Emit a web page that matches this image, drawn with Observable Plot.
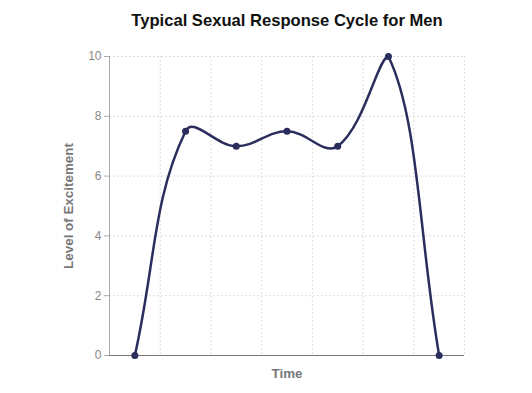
<!DOCTYPE html>
<html>
<head>
<meta charset="utf-8">
<script src="https://cdn.jsdelivr.net/npm/d3@7"></script>
<script src="https://cdn.jsdelivr.net/npm/@observablehq/plot@0.6"></script>
<style>
  html, body { margin: 0; padding: 0; background: #fff; }
</style>
</head>
<body>
<div id="chart"></div>
<script>
const times = [0, 1, 2, 3, 4, 5, 6];
const excitement = [0, 7.5, 7, 7.5, 7, 10, 0];
const yTicks = [0, 2, 4, 6, 8, 10];
const xGrid = [0.5, 1.5, 2.5, 3.5, 4.5, 5.5, 6.5];
const title = "Typical Sexual Response Cycle for Men";
const yLabel = "Level of Excitement";
const xLabel = "Time";

const data = times.map((t, i) => ({t, v: excitement[i]}));
const lineColor = "#2b2d5c";

// Tension-based bezier spline (like Chart.js line tension), control points capped to data extent
function tensionCurve(tension) {
  return function(context) {
    let pts = [];
    return {
      areaStart() {}, areaEnd() {},
      lineStart() { pts = []; },
      point(x, y) { pts.push([+x, +y]); },
      lineEnd() {
        const n = pts.length;
        if (!n) return;
        const ys = pts.map(p => p[1]), xs = pts.map(p => p[0]);
        const yMin = Math.min(...ys), yMax = Math.max(...ys);
        const xMin = Math.min(...xs), xMax = Math.max(...xs);
        const clampY = y => Math.max(yMin, Math.min(yMax, y));
        const clampX = x => Math.max(xMin, Math.min(xMax, x));
        const cps = pts.map((cur, i) => {
          const prev = pts[i - 1] || cur, next = pts[i + 1] || cur;
          const d01 = Math.hypot(cur[0] - prev[0], cur[1] - prev[1]);
          const d12 = Math.hypot(next[0] - cur[0], next[1] - cur[1]);
          let s01 = d01 / (d01 + d12), s12 = d12 / (d01 + d12);
          if (!isFinite(s01)) s01 = 0;
          if (!isFinite(s12)) s12 = 0;
          const fa = tension * s01, fb = tension * s12;
          return {
            p: [clampX(cur[0] - fa * (next[0] - prev[0])), clampY(cur[1] - fa * (next[1] - prev[1]))],
            n: [clampX(cur[0] + fb * (next[0] - prev[0])), clampY(cur[1] + fb * (next[1] - prev[1]))]
          };
        });
        context.moveTo(pts[0][0], pts[0][1]);
        for (let i = 1; i < n; i++) {
          context.bezierCurveTo(cps[i - 1].n[0], cps[i - 1].n[1], cps[i].p[0], cps[i].p[1], pts[i][0], pts[i][1]);
        }
      }
    };
  };
}

const chart = Plot.plot({
  width: 532,
  height: 393,
  marginLeft: 109,
  marginRight: 68,
  marginTop: 56,
  marginBottom: 38,
  style: {fontFamily: "'Liberation Sans', Arial, sans-serif", background: "#fff"},
  x: {domain: [-0.5, 6.5], axis: null},
  y: {domain: [0, 10], axis: null},
  marks: [
    Plot.ruleY(yTicks.filter(d => d > 0), {stroke: "#ddd", strokeDasharray: "2,2"}),
    Plot.ruleX(xGrid, {stroke: "#ddd", strokeDasharray: "2,2"}),
    Plot.axisY({ticks: yTicks, tickSize: 5, tickPadding: 3, stroke: "#aaa", fill: "#888", fontSize: 12, label: null}),
    Plot.ruleX([-0.5], {stroke: "#aaa"}),
    Plot.ruleY([0], {stroke: "#777"}),
    Plot.line(data, {x: "t", y: "v", curve: tensionCurve(0.4), stroke: lineColor, strokeWidth: 2.5}),
    Plot.dot(data, {x: "t", y: "v", r: 3.5, fill: lineColor}),
    Plot.text([title], {frameAnchor: "top", lineAnchor: "middle", dy: -36, fontSize: 16.6, fontWeight: "bold", fill: "#111"}),
    Plot.text([yLabel], {frameAnchor: "left", textAnchor: "middle", lineAnchor: "middle", dx: -41, rotate: -90, fontSize: 13.4, fontWeight: "bold", fill: "#777"}),
    Plot.text([xLabel], {frameAnchor: "bottom", textAnchor: "middle", lineAnchor: "middle", dy: 18, fontSize: 13.3, fontWeight: "bold", fill: "#777"})
  ]
});
document.getElementById("chart").appendChild(chart);
</script>
</body>
</html>
